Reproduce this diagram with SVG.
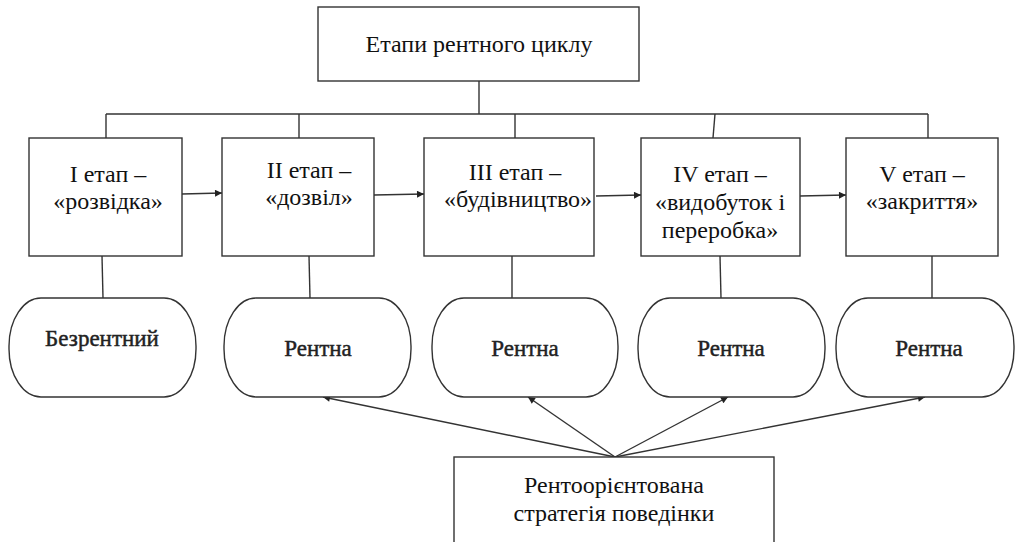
<svg xmlns="http://www.w3.org/2000/svg" width="1016" height="542" viewBox="0 0 1016 542">
<style>
.box{fill:#fff;stroke:#333;stroke-width:1.4}
.ln{fill:none;stroke:#333;stroke-width:1.4}
.t{font-family:"Liberation Serif","Times New Roman",serif;font-size:24px;fill:#111;text-anchor:middle}
.s{font-family:"Liberation Serif","Times New Roman",serif;font-size:23px;fill:#222;stroke:#222;stroke-width:0.45;text-anchor:middle}
</style>
<defs>
<marker id="ah" viewBox="0 0 10 10" refX="10" refY="5" markerWidth="9" markerHeight="7" markerUnits="userSpaceOnUse" orient="auto">
<path d="M0,0 L10,5 L0,10 z" fill="#222"/>
</marker>
</defs>
<rect width="1016" height="542" fill="#fff"/>
<g id="connectors">
<line class="ln" x1="479" y1="81" x2="479" y2="114"/>
<line class="ln" x1="106" y1="114" x2="928" y2="114"/>
<line class="ln" x1="106" y1="114" x2="106" y2="138"/>
<line class="ln" x1="299" y1="114" x2="299" y2="138"/>
<line class="ln" x1="515" y1="114" x2="515" y2="138"/>
<line class="ln" x1="715" y1="114" x2="713" y2="138"/>
<line class="ln" x1="928" y1="114" x2="928" y2="138"/>
<line class="ln" x1="182" y1="194" x2="222" y2="193" marker-end="url(#ah)"/>
<line class="ln" x1="374" y1="195" x2="424" y2="194" marker-end="url(#ah)"/>
<line class="ln" x1="596" y1="196" x2="641" y2="195" marker-end="url(#ah)"/>
<line class="ln" x1="800" y1="196" x2="846" y2="195" marker-end="url(#ah)"/>
<line class="ln" x1="102" y1="256" x2="103" y2="298"/>
<line class="ln" x1="309" y1="256" x2="310" y2="298"/>
<line class="ln" x1="512" y1="256" x2="512" y2="298"/>
<line class="ln" x1="720" y1="256" x2="721" y2="298"/>
<line class="ln" x1="932" y1="256" x2="932" y2="298"/>
<line class="ln" x1="615" y1="457" x2="323" y2="397" marker-end="url(#ah)"/>
<line class="ln" x1="615" y1="457" x2="528" y2="397" marker-end="url(#ah)"/>
<line class="ln" x1="615" y1="457" x2="728" y2="397" marker-end="url(#ah)"/>
<line class="ln" x1="615" y1="457" x2="925" y2="397" marker-end="url(#ah)"/>
</g>
<g id="title">
<rect class="box" x="318" y="7" width="321" height="74"/>
<text class="t" x="479" y="52">Етапи рентного циклу</text>
</g>
<g id="stage1">
<rect class="box" x="29" y="138" width="153" height="118"/>
<text class="t" x="108" y="182">I етап –</text>
<text class="t" x="108" y="209">«розвідка»</text>
</g>
<g id="stage2">
<rect class="box" x="222" y="138" width="152" height="118"/>
<text class="t" x="309" y="178">II етап –</text>
<text class="t" x="309" y="205">«дозвіл»</text>
</g>
<g id="stage3">
<rect class="box" x="424" y="138" width="170" height="118"/>
<text class="t" x="515" y="180">III етап –</text>
<text class="t" x="518" y="207">«будівництво»</text>
</g>
<g id="stage4">
<rect class="box" x="641" y="138" width="159" height="118"/>
<text class="t" x="720" y="182">IV етап –</text>
<text class="t" x="720" y="210">«видобуток і</text>
<text class="t" x="720" y="238">переробка»</text>
</g>
<g id="stage5">
<rect class="box" x="846" y="138" width="152" height="118"/>
<text class="t" x="922" y="182">V етап –</text>
<text class="t" x="922" y="209">«закриття»</text>
</g>
<g id="type1">
<rect class="box" x="9" y="298" width="187" height="99" rx="32" ry="48"/>
<text class="s" x="102" y="346">Безрентний</text>
</g>
<g id="type2">
<rect class="box" x="224" y="298" width="187" height="99" rx="32" ry="48"/>
<text class="s" x="318" y="356">Рентна</text>
</g>
<g id="type3">
<rect class="box" x="432" y="298" width="186" height="99" rx="32" ry="48"/>
<text class="s" x="525" y="356">Рентна</text>
</g>
<g id="type4">
<rect class="box" x="638" y="298" width="187" height="99" rx="32" ry="48"/>
<text class="s" x="731" y="356">Рентна</text>
</g>
<g id="type5">
<rect class="box" x="836" y="298" width="178" height="99" rx="32" ry="48"/>
<text class="s" x="929" y="356">Рентна</text>
</g>
<g id="strategy">
<rect class="box" x="454" y="457" width="320" height="100"/>
<text class="t" x="614" y="493">Рентоорієнтована</text>
<text class="t" x="614" y="521">стратегія поведінки</text>
</g>
</svg>
